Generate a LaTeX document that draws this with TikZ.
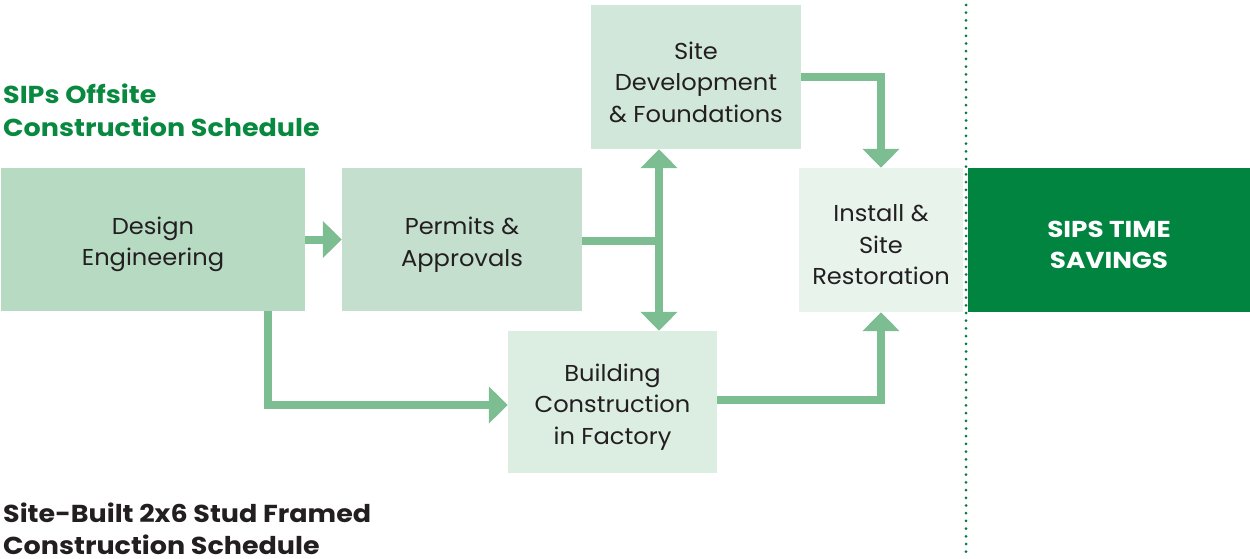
\documentclass[tikz,border=0pt]{standalone}
\usepackage{fontspec}
\setmainfont{Poppins}[FakeStretch=1.05]
\newfontfamily\widefont{Poppins}[FakeStretch=1.1]
\newfontfamily\widerfont{Poppins}[FakeStretch=1.14]
\usetikzlibrary{arrows.meta,calc}
\definecolor{txt}{HTML}{231F20}
\definecolor{ttl}{HTML}{08893F}
\definecolor{cA}{HTML}{B7DAC3}
\definecolor{cB}{HTML}{C4DFCE}
\definecolor{cC}{HTML}{D1E7D9}
\definecolor{cD}{HTML}{DCEDE2}
\definecolor{cE}{HTML}{E8F3EC}
\definecolor{cS}{HTML}{00843F}
\definecolor{arrc}{HTML}{7DBD92}
\definecolor{dotc}{HTML}{007A3D}
\begin{document}
\begin{tikzpicture}[x=1pt,y=-1pt,
  box/.style={draw=none,inner sep=0pt},
  boxlbl/.style={inner sep=0pt,align=center,text=txt,yshift=-5pt,
    font=\fontsize{23}{31.5}\selectfont},
  sipslbl/.style={boxlbl,text=white,font=\fontsize{23}{31.5}\selectfont\widerfont\bfseries},
  titlet/.style={inner sep=0pt,anchor=base west,font=\fontsize{24.5}{33}\selectfont\widefont\bfseries},
  flow/.style={draw=arrc,line width=8pt},
  arr/.style={flow,-{Triangle[width=36pt,length=19pt]}},
  darr/.style={flow,{Triangle[width=36pt,length=19pt]}-{Triangle[width=36pt,length=19pt]}},
  dotline/.style={draw=dotc,line width=3pt,line cap=round,dash pattern=on 0pt off 7.7pt}
]
\useasboundingbox (0,0) rectangle (1250,559);
% boxes
\node[box,fill=cA,minimum width=304pt,minimum height=143pt,
  label={[boxlbl]center:{Design\\Engineering}}] (design) at (153,239.5) {};
\node[box,fill=cB,minimum width=240pt,minimum height=143pt,
  label={[boxlbl]center:{Permits \&\\Approvals}}] (permits) at (462,239.5) {};
\node[box,fill=cC,minimum width=210pt,minimum height=144pt,
  label={[boxlbl]center:{Site\\Development\\\& Foundations}}] (site) at (696,77) {};
\node[box,fill=cD,minimum width=209pt,minimum height=142pt,
  label={[boxlbl]center:{Building\\Construction\\in Factory}}] (build) at (612.5,402) {};
\node[box,fill=cE,minimum width=164pt,minimum height=144pt,
  label={[boxlbl]center:{Install \&\\Site\\Restoration}}] (install) at (881,240) {};
\node[box,fill=cS,minimum width=282pt,minimum height=144pt,
  label={[sipslbl]center:{SIPS TIME\\SAVINGS}}] (sips) at (1109,240) {};
% titles
\node[titlet,text=ttl] (t1a) at (3,104) {SIPs Offsite};
\node[titlet,text=ttl] (t1b) at (3,137) {Construction Schedule};
\node[titlet,text=txt] (t2a) at (3,522) {Site-Built 2x6 Stud Framed};
\node[titlet,text=txt] (t2b) at (3,554) {Construction Schedule};
% junction coordinates
\coordinate (j) at (659,241);
\coordinate (dA) at ($(design.south)+(115,0)$);
% connectors
\draw[arr] (design.east) -- (permits.west);
\draw[flow] (permits.east |- j) -- (j);
\draw[darr] (site.south -| j) -- (build.north -| j);
\draw[arr] (site.east) -| (install.north);
\draw[arr] (dA) |- ($(build.west)+(0,3)$);
\draw[arr] ($(build.east)+(0,-2)$) -| (install.south);
% dotted divider
\coordinate (dtop) at (966,5);
\coordinate (dbot) at (966,559);
\draw[dotline] (dtop) -- (dbot);
\end{tikzpicture}
\end{document}
